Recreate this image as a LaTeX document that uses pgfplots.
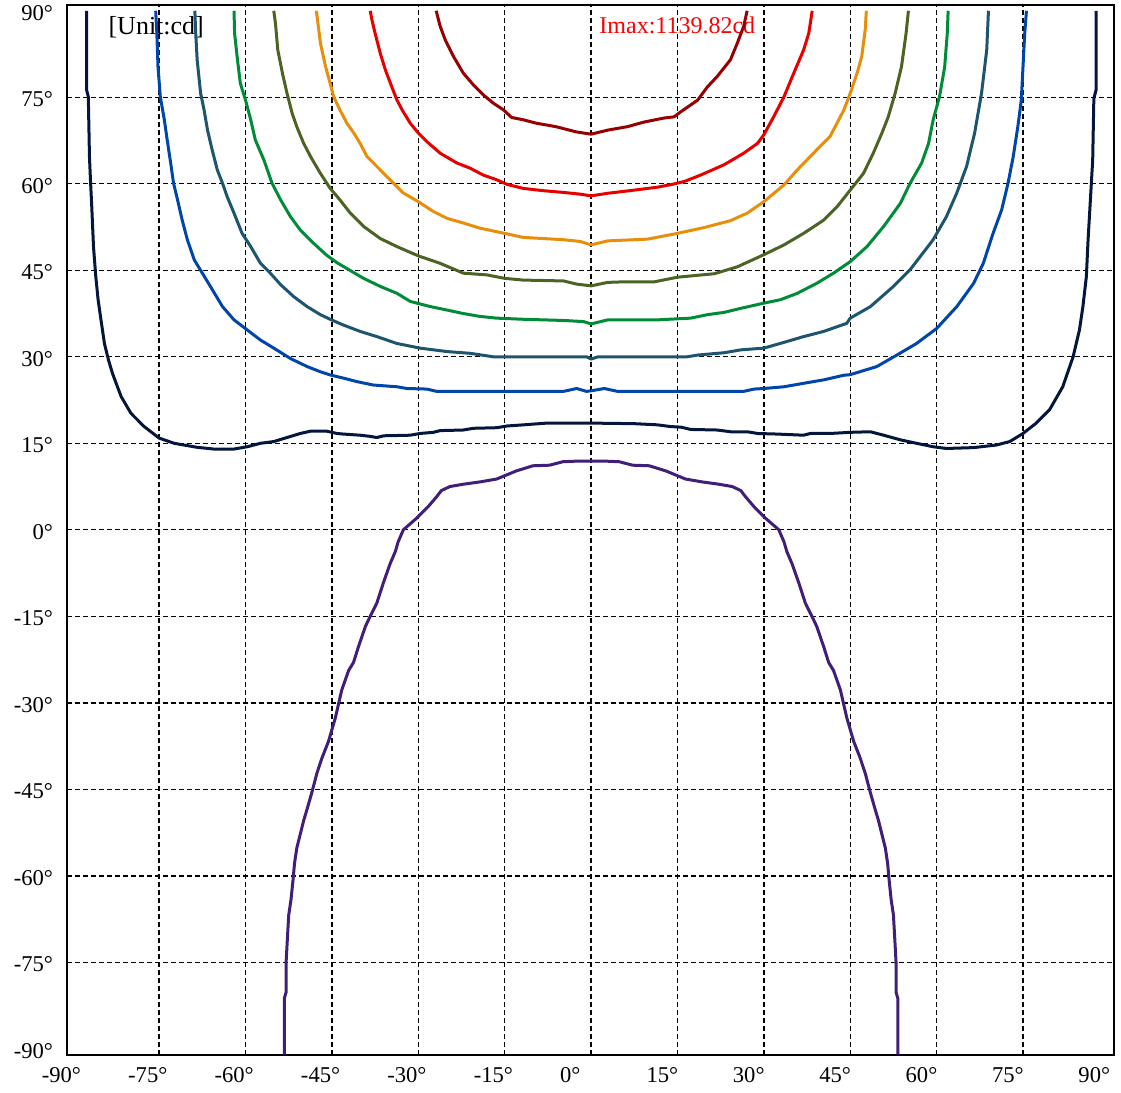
\documentclass[border=0pt]{standalone}
\usepackage{pgfplots}
\pgfplotsset{compat=1.18}
\usepackage{fontspec}
\setmainfont{Liberation Serif}

\definecolor{cNavy}{RGB}{5,22,60}
\definecolor{cBlue}{RGB}{0,70,170}
\definecolor{cTeal}{RGB}{30,85,110}
\definecolor{cGreen}{RGB}{0,140,55}
\definecolor{cOlive}{RGB}{75,100,35}
\definecolor{cOrange}{RGB}{232,142,10}
\definecolor{cRed}{RGB}{230,0,0}
\definecolor{cDarkRed}{RGB}{150,0,0}
\definecolor{cPurple}{RGB}{65,30,120}

\begin{document}
\begin{tikzpicture}
\begin{axis}[
  scale only axis, width=523.5pt, height=525pt,
  xmin=-91, xmax=90.8, ymin=-91.07, ymax=91,
  axis line style={line width=1pt},
  xtick={-90,-75,...,90}, ytick={-90,-75,...,90},
  xticklabels={-90°,-75°,-60°,-45°,-30°,-15°,0°,15°,30°,45°,60°,75°,90°},
  yticklabels={-90°,-75°,-60°,-45°,-30°,-15°,0°,15°,30°,45°,60°,75°,90°},
  major tick length=0pt, minor tick length=0pt,
  minor xtick={-75,-60,...,75}, minor ytick={-75,-60,...,75},
  grid=minor,
  minor grid style={black, line width=0.7pt, dash pattern=on 2.5pt off 1.5pt},
  tick label style={font=\fontsize{11.3}{13}\selectfont},
  xticklabel style={anchor=north west, xshift=-19pt, yshift=-2.5pt},
  yticklabel style={xshift=-3.5pt, yshift=-1pt},
  every axis plot/.append style={line width=1.5pt, line join=round, mark=none},
]

% labels sit underneath the contour lines
\node[anchor=west, inner sep=0pt, font=\fontsize{13}{15}\selectfont] at (axis cs:-83.85,87.2) {[Unit:cd]};
\node[anchor=west, inner sep=0pt, text=red, font=\fontsize{12}{14}\selectfont] at (axis cs:1.39,87.5) {Imax:1139.82cd};

% outermost iso-candela line
\addplot[cNavy] coordinates {
(-87.6,90) (-87.6,76.3) (-87.3,75.1) (-87.1,64.7) (-86.9,60.1) (-86.7,56.0) (-86.4,49.1) (-86.0,43.9) (-85.6,39.9) (-85.1,36.4) (-84.5,32.3) (-83.8,29.45) (-83.1,27.1) (-81.6,23.1) (-79.9,20.2) (-77.6,17.9) (-75,15.9) (-72.4,15.0) (-70.7,14.7) (-68.4,14.3) (-65.5,14.0) (-62.0,14.0) (-59.7,14.4) (-57.4,15.0) (-55.1,15.3) (-52.8,16.0) (-50.5,16.7) (-48.7,17.1) (-45.9,17.1) (-44.1,16.7) (-43.0,16.6) (-40.1,16.4) (-38.35,16.2) (-37.2,16.0) (-36.0,16.3) (-31.4,16.4) (-29.7,16.7) (-27.4,16.9) (-26.2,17.2) (-22.2,17.3) (-20.4,17.6) (-16.4,17.7) (-14.6,18.0) (-11.7,18.2) (-7.7,18.5) (-4.8,18.5) (0,18.5)
(7.5,18.4) (11.5,18.2) (13.8,17.9) (15.6,17.8) (17.3,17.4) (21.9,17.3) (24.2,17.0) (27.1,17.0) (28.9,16.7) (32.3,16.6) (36.9,16.4) (38.1,16.7) (41.5,16.7) (45,16.9) (48.5,17.0) (50.8,16.4) (53.7,15.6) (56.5,15.0) (59.4,14.4) (61.7,14.1) (66.4,14.25) (70.4,14.7) (72.7,15.3) (75.0,16.7) (77.3,18.5) (79.6,20.8) (81.9,24.8) (83.7,30.0) (84.8,34.65) (85.4,38.7) (86.0,43.9) (86.3,50.3) (86.7,57.2) (87.1,64.1) (87.3,74.8) (87.7,76.3) (87.7,90)
};

\addplot[cBlue] coordinates {
(-75.6,90) (-75.4,86.1) (-75.2,80.3) (-74.8,75.1) (-74.1,71.1) (-73.6,67.6) (-73.0,63.6) (-72.5,60.1) (-71.8,57.2) (-71.0,53.7) (-70.1,50.3) (-68.9,46.8) (-67.5,44.5) (-66.1,42.2) (-64.0,38.7) (-62.0,36.4) (-59.7,34.65) (-57.4,32.9) (-55.1,31.5) (-52.2,29.7) (-49.3,28.3) (-47.0,27.4) (-45.3,26.85) (-43.0,26.3) (-40.7,25.7) (-37.8,25.1) (-33.7,24.8) (-32.0,24.5) (-28.5,24.4) (-26.8,24.0) (-16.4,24.0) (-4.8,24.0) (-2.5,24.5) (-0.8,24.0) (0,24.1) (2.3,24.5) (4.6,24.0) (26.5,24.0) (28.3,24.4) (30,24.5) (33.5,24.8) (36.9,25.4) (40.4,26.0) (43.9,26.8) (45.0,26.9) (49.6,28.3) (53.1,30.3) (56.5,32.3) (60.0,34.9) (63.5,38.7) (66.4,42.7) (68.1,46.2) (69.8,51.4) (71.3,55.5) (72.4,60.1) (73.3,64.7) (74.1,69.9) (74.7,74.5) (75.0,80.3) (75.3,86.1) (75.6,90)
};

\addplot[cTeal] coordinates {
(-68.8,90) (-68.65,86.1) (-68.4,81.5) (-67.8,75.7) (-67.2,72.8) (-66.6,69.3) (-65.8,65.9) (-64.9,62.4) (-64.0,60.1) (-63.2,57.8) (-62.0,54.9) (-60.6,51.4) (-59.1,49.1) (-57.4,46.2) (-55.7,44.5) (-53.9,42.5) (-51.6,40.4) (-49.3,38.7) (-47.0,37.3) (-45.3,36.5) (-43.0,35.5) (-40.1,34.4) (-37.2,33.5) (-33.7,32.3) (-29.7,31.5) (-25.0,30.9) (-21.0,30.6) (-17.0,30.0) (-0.8,30.0) (0,29.6) (1.2,30.0) (16.7,30.0) (18.5,30.3) (23.1,30.7) (26.0,31.2) (30,31.5) (33.5,32.5) (36.9,33.5) (40.4,34.4) (44.4,35.8) (45.0,36.7) (48.5,38.7) (52.5,42.2) (55.4,45.1) (59.4,50.3) (61.7,54.3) (63.5,58.4) (65.2,63.0) (66.6,68.8) (67.8,75.7) (68.7,83.2) (69.0,90)
};

\addplot[cGreen] coordinates {
(-62.0,90) (-61.9,86.1) (-61.4,81.5) (-60.9,77.4) (-60.0,74.5) (-59.1,71.1) (-58.3,67.6) (-56.8,64.1) (-55.4,60.1) (-53.9,57.2) (-52.2,54.3) (-50.5,52.0) (-48.2,49.7) (-45.9,47.6) (-44.1,46.3) (-42.4,45.3) (-39.5,43.6) (-36.6,42.2) (-33.7,41.0) (-31.4,39.6) (-27.9,38.7) (-25.0,38.1) (-22.2,37.5) (-19.3,37.0) (-16.4,36.7) (-11.7,36.5) (-4.8,36.3) (-1.3,36.1) (0,35.7) (2.9,36.4) (11.5,36.4) (17.3,36.7) (20.2,37.3) (23.1,37.7) (26.0,38.4) (30.0,39.3) (32.9,39.9) (35.8,41.0) (39.2,42.75) (42.1,44.5) (45,46.5) (47.9,49.1) (50.8,52.6) (53.7,56.6) (55.4,60.1) (57.4,63.6) (58.6,67.0) (59.4,71.1) (60.5,75.1) (61.4,80.3) (61.85,86.1) (62.0,90)
};

\addplot[cOlive] coordinates {
(-55.1,90) (-54.8,87.8) (-54.4,83.2) (-53.6,79.2) (-52.8,75.7) (-51.9,72.2) (-51.1,69.9) (-49.9,67.0) (-48.7,64.7) (-47.0,61.8) (-45.3,59.2) (-43.6,57.2) (-41.8,54.9) (-39.5,52.6) (-36.6,50.5) (-33.7,49.1) (-30.0,47.5) (-26.2,46.2) (-22.2,44.5) (-18.1,44.2) (-15.0,43.6) (-11.8,43.3) (-4.8,43.15) (-2.5,42.6) (0,42.3) (2.9,42.9) (5.8,43.0) (11.0,43.0) (15.0,43.8) (21.4,44.4) (25.4,45.6) (30.0,47.7) (33.5,49.4) (36.9,51.4) (40.4,53.7) (42.7,56.0) (45.0,58.9) (47.3,61.8) (49.0,65.3) (50.5,68.8) (51.6,71.6) (52.8,75.7) (53.9,80.3) (54.7,86.1) (55.1,90)
};

\addplot[cOrange] coordinates {
(-47.7,90) (-47.0,84.4) (-46.1,80.3) (-45.3,77.4) (-44.7,75.1) (-43.6,72.8) (-42.4,70.5) (-41.2,68.8) (-40.1,67.0) (-38.9,64.7) (-37.2,63.0) (-34.9,60.7) (-32.6,58.4) (-30.0,56.9) (-27.4,55.2) (-25.0,54.0) (-22.2,53.2) (-19.3,52.3) (-15.0,51.4) (-11.8,50.7) (-4.8,50.3) (-1.9,50.0) (0,49.4) (2.9,50.1) (9.8,50.4) (15.0,51.4) (19.6,52.4) (24.2,53.6) (27.1,54.9) (30.0,56.9) (33.5,59.8) (35.8,62.4) (39.2,65.9) (41.5,68.2) (43.9,72.8) (45.0,75.7) (46.2,79.2) (47.0,82.1) (47.6,86.7) (47.8,90)
};

\addplot[cRed] coordinates {
(-38.35,90) (-38.05,88.4) (-37.5,86.1) (-36.6,82.6) (-35.7,79.7) (-34.6,76.8) (-33.7,74.5) (-32.8,72.8) (-31.4,70.5) (-30.0,68.8) (-28.5,67.3) (-26.2,65.3) (-23.3,63.6) (-21.0,62.7) (-18.7,61.5) (-16.4,60.7) (-14.6,59.9) (-11.8,59.2) (-8.3,58.8) (-4.8,58.5) (-1.9,58.2) (0,57.9) (2.9,58.35) (7.5,58.9) (11.5,59.4) (14.1,59.9) (16.2,60.4) (19.0,61.5) (23.1,63.3) (26.5,65.3) (28.9,67.0) (30.0,68.5) (31.7,71.6) (33.5,75.1) (35.2,79.2) (36.9,83.2) (37.8,86.1) (38.4,90)
};

\addplot[cDarkRed] coordinates {
(-26.9,90) (-26.2,87.3) (-25.3,84.9) (-23.9,82.1) (-22.2,79.2) (-20.4,77.1) (-18.7,75.4) (-17.0,74.0) (-15.2,72.8) (-13.8,71.5) (-11.8,71.1) (-9.5,70.5) (-6.1,69.9) (-2.6,69.0) (0,68.6) (2.9,69.3) (6.3,69.9) (9.2,70.7) (12.7,71.4) (14.4,71.6) (15.6,72.5) (18.5,74.5) (20.2,76.8) (21.9,78.6) (24.2,81.5) (25.4,84.4) (26.5,87.3) (27.1,90)
};

% innermost line, closed towards the lower hemisphere
\addplot[cPurple] coordinates {
(-53.25,-91) (-53.25,-81.2) (-52.96,-80.2) (-52.96,-75.1) (-52.7,-70.3) (-52.5,-66.8) (-52.1,-64.1) (-51.75,-60.7) (-51.5,-57.9) (-51.1,-55.2) (-50.6,-53.2) (-49.9,-50.4) (-49.3,-48.4) (-48.5,-45.6) (-47.6,-42.2) (-46.7,-39.5) (-45.6,-36.7) (-44.4,-32.6) (-43.3,-27.8) (-42.1,-24.4) (-41.25,-23.0) (-40.4,-20.3) (-39.2,-16.8) (-38.4,-15.1) (-37.2,-12.7) (-36.1,-9.3) (-34.9,-5.9) (-34.0,-3.8) (-33.5,-2.1) (-32.6,0.0) (-30.3,2.0) (-28.3,4.0) (-26.8,5.75) (-26.0,6.8) (-24.5,7.5) (-22.2,7.9) (-19.3,8.3) (-16.4,8.8) (-14.7,9.5) (-13.0,10.2) (-10.1,11.1) (-7.2,11.2) (-4.9,11.8) (-2.6,11.9) (0,11.9)
(2.6,11.9) (4.9,11.8) (7.2,11.2) (10.1,11.1) (13.0,10.2) (14.7,9.5) (16.4,8.8) (19.3,8.3) (22.2,7.9) (24.5,7.5) (26.0,6.8) (26.8,5.75) (28.3,4.0) (30.3,2.0) (32.6,0.0) (33.5,-2.1) (34.0,-3.8) (34.9,-5.9) (36.1,-9.3) (37.2,-12.7) (38.4,-15.1) (39.2,-16.8) (40.4,-20.3) (41.25,-23.0) (42.1,-24.4) (43.3,-27.8) (44.4,-32.6) (45.6,-36.7) (46.7,-39.5) (47.6,-42.2) (48.5,-45.6) (49.3,-48.4) (49.9,-50.4) (50.6,-53.2) (51.1,-55.2) (51.5,-57.9) (51.75,-60.7) (52.1,-64.1) (52.5,-66.8) (52.7,-70.3) (52.96,-75.1) (52.96,-80.2) (53.25,-81.2) (53.25,-91)
};
\end{axis}
\pgfresetboundingbox
\path ([xshift=-33.5pt,yshift=-19pt]current axis.south west) rectangle ([xshift=3.5pt,yshift=2.5pt]current axis.north east);
\end{tikzpicture}
\end{document}
